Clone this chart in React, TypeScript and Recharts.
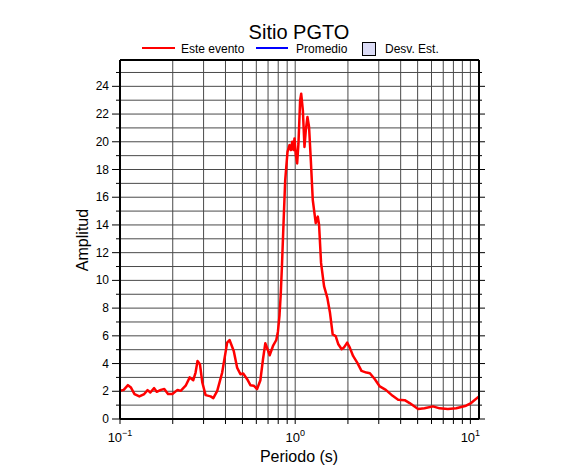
import React from 'react'
import { LineChart, Line, XAxis, YAxis, CartesianGrid } from 'recharts'

// ─── Datos: espectro de amplitud, sitio PGTO ─────────────────────────────────

const periodos = [
  0.1, 0.105, 0.111, 0.1155, 0.121, 0.129, 0.1375, 0.1437, 0.149, 0.1566,
  0.162, 0.171, 0.179, 0.188, 0.199, 0.213, 0.222, 0.237, 0.25, 0.262,
  0.27, 0.277, 0.286, 0.295, 0.308, 0.329, 0.341, 0.359, 0.383, 0.409,
  0.422, 0.446, 0.466, 0.487, 0.505, 0.532, 0.555, 0.58, 0.606, 0.633,
  0.655, 0.675, 0.696, 0.715, 0.747, 0.78, 0.797, 0.814, 0.827, 0.84,
  0.858, 0.877, 0.904, 0.928, 0.945, 0.962, 0.978, 0.991, 1.009, 1.026,
  1.044, 1.067, 1.082, 1.106, 1.13, 1.15, 1.175, 1.2, 1.228, 1.26,
  1.31, 1.346, 1.369, 1.405, 1.461, 1.526, 1.58, 1.637, 1.703, 1.763,
  1.842, 1.897, 1.98, 2.05, 2.14, 2.26, 2.39, 2.55, 2.67, 2.85,
  3.04, 3.29, 3.6, 3.87, 4.22, 4.5, 5.03, 5.47, 6.12, 6.67,
  7.44, 8.31, 9.45, 10.09, 11.2,
]

const amplitudes = [
  2.03, 2.1, 2.44, 2.27, 1.8, 1.63, 1.8, 2.08, 1.91, 2.23,
  1.96, 2.1, 2.16, 1.8, 1.8, 2.1, 2.03, 2.4, 3.0, 2.8,
  3.35, 4.19, 3.95, 2.63, 1.72, 1.63, 1.51, 2.03, 3.35, 5.51,
  5.7, 4.91, 3.71, 3.23, 3.28, 2.87, 2.44, 2.4, 2.16, 2.8,
  4.31, 5.46, 5.03, 4.6, 5.27, 5.7, 6.3, 7.5, 9.0, 11.0,
  14.13, 17.24, 19.27, 19.76, 19.4, 20.0, 19.4, 20.24, 19.04, 18.44,
  19.88, 22.99, 23.47, 22.27, 19.63, 20.83, 21.79, 21.07, 18.68, 15.8,
  14.13, 14.6, 14.0, 11.26, 9.58, 8.74, 7.66, 6.1, 5.98, 5.39,
  5.03, 5.15, 5.51, 5.15, 4.55, 4.07, 3.47, 3.35, 3.3, 2.87,
  2.35, 2.1, 1.67, 1.39, 1.36, 1.15, 0.72, 0.77, 0.91, 0.77,
  0.72, 0.77, 0.96, 1.15, 1.63,
]

const ticksX = [
  0.1, 0.2, 0.3, 0.4, 0.5, 0.6, 0.7, 0.8, 0.9,
  1, 2, 3, 4, 5, 6, 7, 8, 9, 10,
]
const ticksY = [
  0, 1, 2, 3, 4, 5, 6, 7, 8, 9, 10, 11, 12, 13, 14, 15, 16, 17, 18, 19, 20,
  21, 22, 23, 24, 25,
]
const etiquetasX: Record<number, string> = { 0.1: '−1', 1: '0', 10: '1' }

const data = periodos.map((p, i) => ({ periodo: p, amp: amplitudes[i] }))

const FONT = 'Liberation Sans, Arial, Helvetica, sans-serif'
const DOMX: [number, number] = [0.1, 11.2]
const DOMY: [number, number] = [0, 25.9]

// ─── Ticks a mano (estilo GMT) ───────────────────────────────────────────────

function TickAbajo({ x, y, payload }: any) {
  const exp = etiquetasX[payload.value]
  return (
    <g>
      <line x1={x} x2={x} y1={y} y2={y + 5} stroke="#000" strokeWidth={1} />
      {exp !== undefined && (
        <text x={x} y={y + 23} textAnchor="middle" fontSize={13} fontFamily={FONT} fill="#000">
          10<tspan dy={-6} fontSize={9}>{exp}</tspan>
        </text>
      )}
    </g>
  )
}

function TickArriba({ x, y }: any) {
  return <line x1={x} x2={x} y1={y} y2={y - 5} stroke="#000" strokeWidth={1} />
}

function TickIzq({ x, y, payload }: any) {
  const mayor = payload.value % 2 === 0
  return (
    <g>
      <line x1={x - (mayor ? 8 : 4)} x2={x} y1={y} y2={y} stroke="#000" strokeWidth={1} />
      {mayor && (
        <text x={x - 11} y={y} textAnchor="end" dominantBaseline="central" fontSize={12} fontFamily={FONT} fill="#000">
          {payload.value}
        </text>
      )}
    </g>
  )
}

function TickDer({ x, y, payload }: any) {
  const mayor = payload.value % 2 === 0
  return <line x1={x} x2={x + (mayor ? 6 : 3)} y1={y} y2={y} stroke="#000" strokeWidth={1} />
}

export default function App() {
  return (
    <div style={{ position: 'absolute', left: 0, top: 0, width: 586, height: 475, background: '#fff' }}>
      <LineChart width={586} height={475} data={data} margin={{ top: 40, right: 87, bottom: 26, left: 70 }}>
        <CartesianGrid stroke="#4a4a4a" strokeWidth={1} xAxisId={0} yAxisId={0} />
        <XAxis
          dataKey="periodo" type="number" scale="log" domain={DOMX} allowDataOverflow
          ticks={ticksX} interval={0} height={30} tickSize={0} tickMargin={0} tickLine={false}
          tick={<TickAbajo />} axisLine={{ stroke: '#000', strokeWidth: 2 }}
        />
        <XAxis
          xAxisId="top" orientation="top" type="number" scale="log" domain={DOMX} allowDataOverflow
          ticks={ticksX} interval={0} height={20} tickSize={0} tickMargin={0} tickLine={false}
          tick={<TickArriba />} axisLine={{ stroke: '#000', strokeWidth: 2 }}
        />
        <YAxis
          type="number" domain={DOMY} allowDataOverflow ticks={ticksY} interval={0} width={50}
          tickSize={0} tickMargin={0} tickLine={false} tick={<TickIzq />}
          axisLine={{ stroke: '#000', strokeWidth: 2 }}
        />
        <YAxis
          yAxisId="right" orientation="right" type="number" domain={DOMY} allowDataOverflow
          ticks={ticksY} interval={0} width={20} tickSize={0} tickMargin={0} tickLine={false}
          tick={<TickDer />} axisLine={{ stroke: '#000', strokeWidth: 2 }}
        />
        <Line
          type="linear" dataKey="amp" stroke="#ff0000" strokeWidth={2.5} dot={false}
          isAnimationActive={false} strokeLinejoin="round"
        />
      </LineChart>

      <svg width={586} height={475} style={{ position: 'absolute', left: 0, top: 0, pointerEvents: 'none' }} fontFamily={FONT}>
        <text x={299} y={39} textAnchor="middle" fontSize={20} fill="#000">Sitio PGTO</text>

        <line x1={142} x2={175} y1={48} y2={48} stroke="#ff0000" strokeWidth={2} />
        <text x={181} y={53} fontSize={12} fill="#000">Este evento</text>
        <line x1={256} x2={288} y1={48} y2={48} stroke="#0000ff" strokeWidth={2} />
        <text x={296} y={53} fontSize={12} fill="#000">Promedio</text>
        <rect x={362.5} y={42.5} width={13} height={13} fill="#dcdcf6" stroke="#000" strokeWidth={1} />
        <text x={385} y={53} fontSize={12} fill="#000">Desv. Est.</text>

        <text x={299} y={462} textAnchor="middle" fontSize={16} fill="#000">Periodo (s)</text>
        <text x={88} y={240} textAnchor="middle" fontSize={16} fill="#000" transform="rotate(-90 88 240)">Amplitud</text>
      </svg>
    </div>
  )
}
